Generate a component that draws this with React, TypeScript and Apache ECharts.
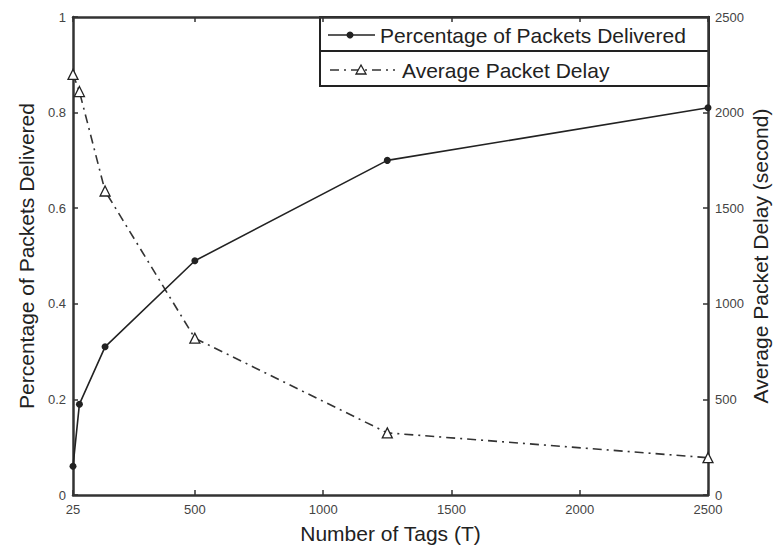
import React, { useEffect, useRef } from "react";
import * as echarts from "echarts";

const xTicks = [25, 500, 1000, 1500, 2000, 2500];
const tagCounts = [25, 50, 150, 500, 1250, 2500];
const deliveredPct = [0.06, 0.19, 0.31, 0.49, 0.7, 0.81];
const avgDelay = [2200, 2110, 1590, 820, 325, 195];
const seriesNames = ["Percentage of Packets Delivered", "Average Packet Delay"];

const FONT = '"Liberation Sans", Arial, sans-serif';
const AXIS = "#333";
const TEXT = "#222";
const TICKTXT = "#444";

export default function App() {
  const ref = useRef<HTMLDivElement>(null);
  useEffect(() => {
    if (!ref.current) return;
    const chart = echarts.init(ref.current, undefined, { renderer: "svg" });
    const plain = (v: number) => String(v);
    const tickLabel = { fontSize: 13, color: TICKTXT, fontFamily: FONT, formatter: plain };
    const nameStyle = { fontSize: 21, color: TEXT, fontFamily: FONT };
    chart.setOption({
      animation: false,
      backgroundColor: "#fff",
      grid: { left: 73, right: 68, top: 17, bottom: 53, containLabel: false, outerBoundsMode: "none" },
      xAxis: [
        {
          type: "value",
          position: "bottom",
          min: 25,
          max: 2500,
          axisLine: { onZero: false, lineStyle: { color: AXIS, width: 2.5 } },
          axisTick: { inside: true, length: 5, customValues: xTicks, lineStyle: { color: AXIS, width: 1.5 } },
          axisLabel: { ...tickLabel, margin: 8, customValues: xTicks },
          splitLine: { show: false },
          name: "Number of Tags (T)",
          nameLocation: "middle",
          nameGap: 28,
          nameMoveOverlap: false,
          nameTextStyle: nameStyle,
        },
        {
          type: "value",
          position: "top",
          min: 25,
          max: 2500,
          axisLine: { onZero: false, lineStyle: { color: AXIS, width: 2.5 } },
          axisTick: { inside: true, length: 5, customValues: xTicks, lineStyle: { color: AXIS, width: 1.5 } },
          axisLabel: { show: false },
          splitLine: { show: false },
        },
      ],
      yAxis: [
        {
          type: "value",
          position: "left",
          min: 0,
          max: 1,
          interval: 0.2,
          axisLine: { show: true, onZero: false, lineStyle: { color: AXIS, width: 2.5 } },
          axisTick: { show: true, inside: true, length: 5, lineStyle: { color: AXIS, width: 1.5 } },
          axisLabel: { ...tickLabel, margin: 7 },
          splitLine: { show: false },
          name: "Percentage of Packets Delivered",
          nameLocation: "middle",
          nameRotate: 90,
          nameGap: 36,
          nameMoveOverlap: false,
          nameTextStyle: nameStyle,
        },
        {
          type: "value",
          position: "right",
          min: 0,
          max: 2500,
          interval: 500,
          axisLine: { show: true, onZero: false, lineStyle: { color: AXIS, width: 2.5 } },
          axisTick: { show: true, inside: true, length: 5, lineStyle: { color: AXIS, width: 1.5 } },
          axisLabel: { ...tickLabel, margin: 7 },
          splitLine: { show: false },
          name: "Average Packet Delay (second)",
          nameLocation: "middle",
          nameRotate: 90,
          nameGap: 42,
          nameMoveOverlap: false,
          nameTextStyle: nameStyle,
        },
      ],
      series: [
        {
          name: seriesNames[0],
          type: "line",
          xAxisIndex: 0,
          yAxisIndex: 0,
          clip: false,
          data: tagCounts.map((x, i) => [x, deliveredPct[i]]),
          symbol: "circle",
          symbolSize: 7,
          itemStyle: { color: TEXT },
          lineStyle: { color: TEXT, width: 1.6 },
          z: 3,
        },
        {
          name: seriesNames[1],
          type: "line",
          xAxisIndex: 0,
          yAxisIndex: 1,
          clip: false,
          data: tagCounts.map((x, i) => [x, avgDelay[i]]),
          symbol: "triangle",
          symbolSize: 10,
          itemStyle: { color: "#fff", borderColor: TEXT, borderWidth: 1.3 },
          lineStyle: { color: "#333", width: 1.6, type: [9, 5, 2, 5] },
          z: 2,
        },
      ],
      graphic: [
        {
          type: "group",
          z: 100,
          children: [
            {
              type: "rect",
              shape: { x: 320, y: 17, width: 389, height: 69 },
              style: { fill: "#fff", stroke: "#222", lineWidth: 2 },
            },
            {
              type: "line",
              shape: { x1: 320, y1: 51, x2: 709, y2: 51 },
              style: { stroke: "#222", lineWidth: 2 },
            },
            {
              type: "line",
              shape: { x1: 328, y1: 35, x2: 375, y2: 35 },
              style: { stroke: TEXT, lineWidth: 1.6 },
            },
            {
              type: "circle",
              shape: { cx: 350, cy: 35, r: 3.5 },
              style: { fill: TEXT },
            },
            {
              type: "text",
              style: {
                text: seriesNames[0],
                x: 380,
                y: 35,
                fill: TEXT,
                fontSize: 21,
                fontFamily: FONT,
                textAlign: "left",
                textVerticalAlign: "middle",
                align: "left",
                verticalAlign: "middle",
              },
            },
            {
              type: "polyline",
              shape: { points: [[330, 70], [395, 70]] },
              style: { stroke: "#333", lineWidth: 1.6, lineDash: [9, 5, 2, 5], fill: "none" },
            },
            {
              type: "polygon",
              shape: { points: [[361, 65], [366, 74], [356, 74]] },
              style: { fill: "#fff", stroke: TEXT, lineWidth: 1.3 },
            },
            {
              type: "text",
              style: {
                text: seriesNames[1],
                x: 402,
                y: 70,
                fill: TEXT,
                fontSize: 21,
                fontFamily: FONT,
                textAlign: "left",
                textVerticalAlign: "middle",
                align: "left",
                verticalAlign: "middle",
              },
            },
          ],
        },
      ],
    });
    return () => chart.dispose();
  }, []);
  return (
    <div
      ref={ref}
      style={{ position: "fixed", left: 0, top: 0, width: 776, height: 548, background: "#fff" }}
    />
  );
}
